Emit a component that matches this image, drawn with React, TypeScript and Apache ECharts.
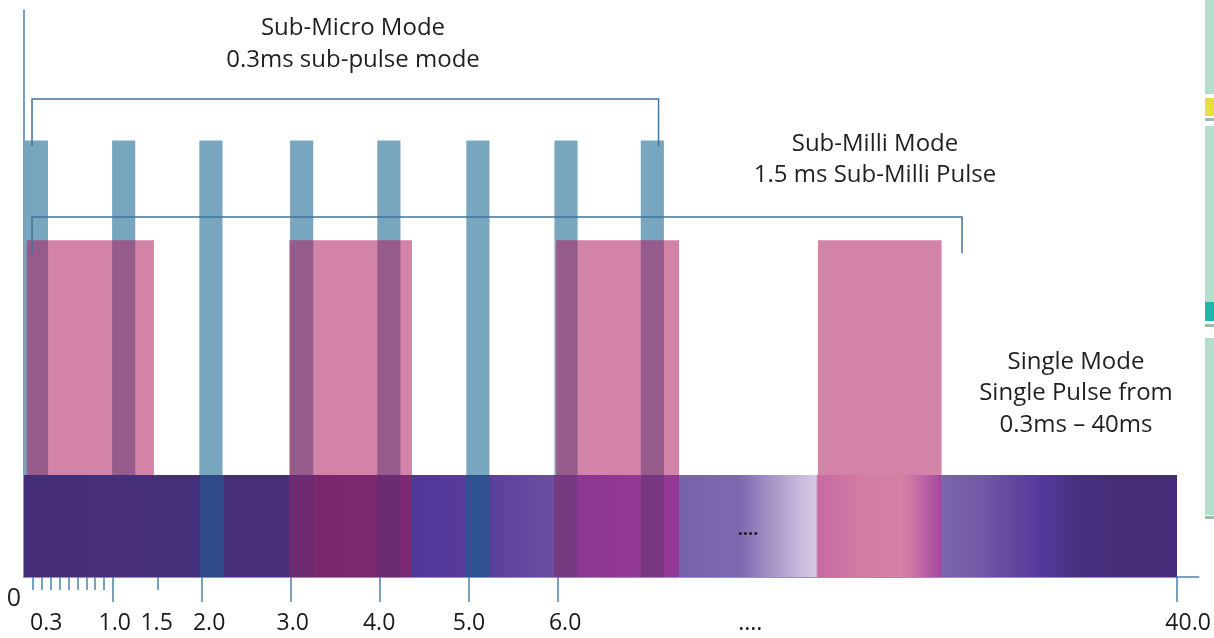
import React, { useEffect, useRef } from "react";
import * as echarts from "echarts";

// ---- data (x in ms on a display scale; 40 ms sits after a break) ----
const subMicroStarts = [0.01, 0.99, 1.97, 2.99, 3.97, 4.97, 5.96, 6.93];
const subMicroWidth = 0.26;
const subMicroHeight = 77;

const subMilliStarts = [0.03, 2.98, 5.98, 8.92];
const subMilliEnds = [1.46, 4.36, 7.36, 10.31];
const subMilliHeight = 59.4;

const singleStart = 0;
const singleEnd = 12.955; // display position of 40.0 ms
const singleHeight = 18;

const majorTicks = [1, 2, 3, 4, 5, 6, 12.955];
const minorTicks = [0.1, 0.2, 0.3, 0.4, 0.5, 0.6, 0.7, 0.8, 0.9, 1.5];
const tickLabelValues = [0.25, 1.02, 1.49, 2.08, 3.02, 3.99, 5.0, 6.08, 8.16, 13.08];
const tickLabelTexts = ["0.3", "1.0", "1.5", "2.0", "3.0", "4.0", "5.0", "6.0", "....", "40.0"];

// bracket: [xStart, xEnd, yTop, yLegEnd]
const bracketSubMicro = [0.09, 7.13, 84.3, 76.0];
const bracketSubMilli = [0.09, 10.54, 63.5, 57.1];

const X_MAX = 13.2;
const Y_MAX = 100;
const FONT = '"Open Sans", "Noto Sans", sans-serif';
const AXIS_BLUE = "#4c80a9";

const bandStops: [number, string][] = [
  [0, "#452c79"], [0.1526, "#462f7a"], [0.1527, "#2f4a87"], [0.1734, "#2f4a87"],
  [0.1735, "#462e7a"], [0.2298, "#472e7a"], [0.2299, "#6b2b6e"], [0.2506, "#6b2b6e"],
  [0.2507, "#7a286d"], [0.3061, "#7b286e"], [0.3062, "#6b2b70"], [0.3261, "#6b2b70"],
  [0.3262, "#7d2a74"], [0.3365, "#7d2a74"], [0.3366, "#51379a"], [0.3833, "#573c9a"],
  [0.3834, "#2f5190"], [0.4032, "#2f5190"], [0.4033, "#5b3f9d"], [0.4596, "#6a4fa3"],
  [0.4597, "#763a80"], [0.4796, "#763a80"], [0.4797, "#8c3790"], [0.5351, "#933a95"],
  [0.5352, "#783683"], [0.555, "#783683"], [0.5551, "#923b96"], [0.568, "#923b96"],
  [0.5681, "#7763ad"], [0.621, "#7d69b0"], [0.647, "#a393c6"], [0.673, "#c6b9db"],
  [0.6869, "#d5cae4"], [0.6886, "#c76ba0"], [0.7337, "#d47ea4"], [0.7598, "#d680a6"],
  [0.7702, "#cd74a6"], [0.7823, "#ba5fa4"], [0.7953, "#a44a9c"], [0.7962, "#7b66ad"],
  [0.8291, "#7259a7"], [0.8638, "#5f449f"], [0.8855, "#52389a"], [0.9115, "#48317f"],
  [0.9419, "#452d7a"], [1, "#442c78"],
];

function rectSeries(name: string, data: number[][], fill: any, z: number) {
  return {
    name,
    type: "custom",
    xAxisIndex: 0,
    yAxisIndex: 0,
    z,
    clip: false,
    data,
    renderItem: (_params: any, api: any) => {
      const p0 = api.coord([api.value(0), api.value(2)]);
      const p1 = api.coord([api.value(1), 0]);
      return {
        type: "rect",
        shape: { x: p0[0], y: p0[1], width: p1[0] - p0[0], height: p1[1] - p0[1] },
        style: { fill },
      };
    },
  };
}

function bracketSeries(name: string, b: number[]) {
  return {
    name,
    type: "custom",
    z: 20,
    clip: false,
    data: [b],
    renderItem: (_params: any, api: any) => {
      const a = api.coord([api.value(0), api.value(3)]);
      const t0 = api.coord([api.value(0), api.value(2)]);
      const t1 = api.coord([api.value(1), api.value(2)]);
      const c = api.coord([api.value(1), api.value(3)]);
      return {
        type: "polyline",
        shape: { points: [a, t0, t1, c] },
        style: { stroke: "#3f7399", lineWidth: 1.5, fill: null },
      };
    },
  };
}

export default function App() {
  const ref = useRef<HTMLDivElement>(null);
  useEffect(() => {
    if (!ref.current) return;
    const chart = echarts.init(ref.current, undefined, { renderer: "svg" });

    const textStyle = (text: string, x: number, y: number, size = 24, weight: any = "normal") => ({
      type: "text",
      x,
      y,
      z: 50,
      style: {
        text,
        align: "center",
        verticalAlign: "middle",
        fontSize: size,
        fontFamily: FONT,
        fontWeight: weight,
        fill: "#231f20",
      },
    });

    const greenRects = [
      [0, 94, "#b5dfcb"], [98, 116, "#e9de3e"], [118, 121, "#9fb9ad"], [126, 302, "#b5dfcb"],
      [302, 321, "#20b5ab"], [324, 327, "#9fb9ad"], [338, 515, "#b5dfcb"], [516, 519, "#9fb9ad"],
    ].map(([y0, y1, c]: any) => ({
      type: "rect",
      shape: { x: 1205, y: y0, width: 9, height: y1 - y0 },
      style: { fill: c },
      z: 1,
    }));

    chart.setOption({
      animation: false,
      grid: { left: 24, top: 10, width: X_MAX * 89, height: 567, containLabel: false },
      xAxis: [
        {
          type: "value",
          min: 0,
          max: X_MAX,
          position: "bottom",
          axisLine: { show: true, lineStyle: { color: AXIS_BLUE, width: 1.5 } },
          axisTick: { show: true, customValues: majorTicks, length: 25, lineStyle: { color: AXIS_BLUE, width: 1.5 } },
          axisLabel: {
            show: true,
            customValues: tickLabelValues,
            margin: 32,
            fontSize: 23,
            lineHeight: 23,
            fontFamily: FONT,
            color: "#1a1a1a",
            formatter: (v: number) => {
              const i = tickLabelValues.findIndex((t) => Math.abs(t - v) < 1e-6);
              return i >= 0 ? tickLabelTexts[i] : "";
            },
          },
          splitLine: { show: false },
        },
        {
          type: "value",
          min: 0,
          max: X_MAX,
          position: "bottom",
          offset: 0,
          axisLine: { show: false },
          axisTick: { show: true, customValues: minorTicks, length: 13, lineStyle: { color: AXIS_BLUE, width: 1.5 } },
          axisLabel: { show: false },
          splitLine: { show: false },
        },
      ],
      yAxis: {
        type: "value",
        min: 0,
        max: Y_MAX,
        axisLine: { show: true, lineStyle: { color: AXIS_BLUE, width: 1.5 } },
        axisTick: { show: false },
        axisLabel: { show: false },
        splitLine: { show: false },
      },
      series: [
        rectSeries("Sub-Micro", subMicroStarts.map((s) => [s, s + subMicroWidth, subMicroHeight]), "#79a6bf", 2),
        rectSeries("Sub-Milli", subMilliStarts.map((s, i) => [s, subMilliEnds[i], subMilliHeight]), "rgba(173,30,95,0.55)", 3),
        rectSeries(
          "Single",
          [[singleStart, singleEnd, singleHeight]],
          new echarts.graphic.LinearGradient(0, 0, 1, 0, bandStops.map(([offset, color]) => ({ offset, color }))),
          4
        ),
        bracketSeries("Sub-Micro bracket", bracketSubMicro),
        bracketSeries("Sub-Milli bracket", bracketSubMilli),
      ],
      graphic: [
        ...greenRects,
        textStyle("Sub-Micro Mode", 353, 25),
        textStyle("0.3ms sub-pulse mode", 353, 57),
        textStyle("Sub-Milli Mode", 875, 141),
        textStyle("1.5 ms Sub-Milli Pulse", 875, 172),
        textStyle("Single Mode", 1076, 359),
        textStyle("Single Pulse from", 1076, 390),
        textStyle("0.3ms \u2013 40ms", 1076, 422),
        textStyle("0", 14, 596, 25),
        textStyle("....", 748, 528, 18, "bold"),
      ],
    });
    return () => chart.dispose();
  }, []);
  return <div ref={ref} style={{ position: "fixed", left: 0, top: 0, width: 1214, height: 638 }} />;
}
